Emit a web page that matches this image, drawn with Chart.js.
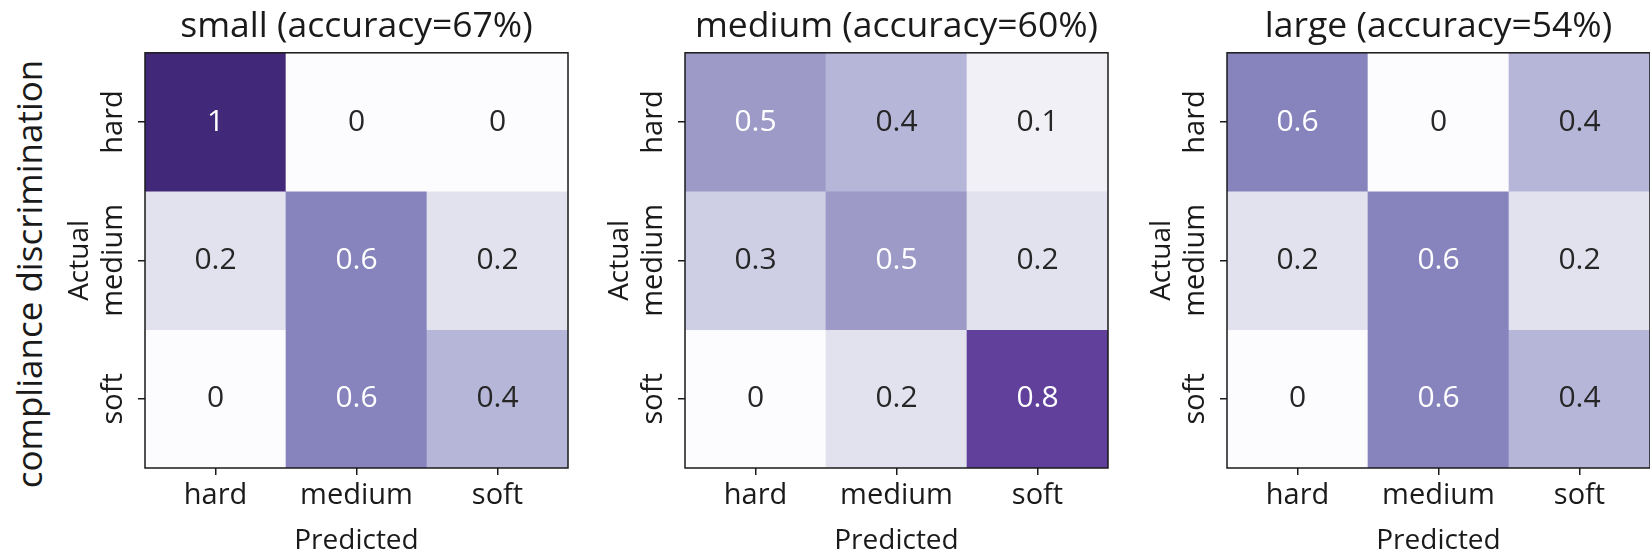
<!DOCTYPE html>
<html>
<head>
<meta charset="utf-8">
<script src="https://cdn.jsdelivr.net/npm/chart.js@4.4.1/dist/chart.umd.min.js"></script>
<style>
  html, body { margin: 0; padding: 0; background: #ffffff; }
  body { width: 1650px; height: 553px; overflow: hidden; position: relative; }
  .panel { position: absolute; top: 0; width: 570px; height: 553px; }
  .panel canvas { display: block; }
  #suplabel {
    position: absolute; left: 29px; top: 274px;
    transform: translate(-50%, -50%) rotate(-90deg);
    font-family: 'Open Sans', sans-serif; font-size: 35px; color: #1a1a1a;
    white-space: nowrap; line-height: 1.2;
  }
</style>
</head>
<body>
<div id="suplabel">compliance discrimination</div>
<div class="panel" style="left:0px"><canvas id="panelSmall" width="570" height="553"></canvas></div>
<div class="panel" style="left:540px"><canvas id="panelMedium" width="570" height="553"></canvas></div>
<div class="panel" style="left:1082px"><canvas id="panelLarge" width="570" height="553"></canvas></div>
<script>
// Class labels (rows = actual, columns = predicted)
const predictedLabels = ['hard', 'medium', 'soft'];
const actualLabels = ['hard', 'medium', 'soft'];

// Panel titles
const panelTitles = ['small (accuracy=67%)', 'medium (accuracy=60%)', 'large (accuracy=54%)'];

// Normalised confusion matrices, one row per actual class
const smallMatrix  = [[1, 0, 0], [0.2, 0.6, 0.2], [0, 0.6, 0.4]];
const mediumMatrix = [[0.5, 0.4, 0.1], [0.3, 0.5, 0.2], [0, 0.2, 0.8]];
const largeMatrix  = [[0.6, 0, 0.4], [0.2, 0.6, 0.2], [0, 0.6, 0.4]];

// Sequential purple colour scale over [0, 1]
const purpleStops = ['#fcfbfd', '#efedf5', '#dadaeb', '#bcbddc', '#9e9ac8', '#807dba', '#6a51a3', '#54278f', '#422878'];

function hexToRgb(h) {
  return [parseInt(h.slice(1, 3), 16), parseInt(h.slice(3, 5), 16), parseInt(h.slice(5, 7), 16)];
}
function purples(v) {
  const t = Math.max(0, Math.min(1, v)) * (purpleStops.length - 1);
  const i = Math.min(Math.floor(t), purpleStops.length - 2);
  const f = t - i;
  const a = hexToRgb(purpleStops[i]), b = hexToRgb(purpleStops[i + 1]);
  const c = a.map((x, k) => Math.round(x + (b[k] - x) * f));
  return `rgb(${c[0]},${c[1]},${c[2]})`;
}

const INK = '#1a1a1a';
const FONT = "'Open Sans', sans-serif";

// Frame around the plotting area
const framePlugin = {
  id: 'frame',
  afterDraw(chart) {
    const { ctx, chartArea: a } = chart;
    ctx.save();
    ctx.strokeStyle = INK;
    ctx.lineWidth = 1.5;
    ctx.strokeRect(a.left, a.top, a.right - a.left, a.bottom - a.top);
    ctx.restore();
  }
};

// Value annotation in the middle of each cell
const cellTextPlugin = {
  id: 'cellText',
  afterDatasetsDraw(chart) {
    const { ctx } = chart;
    ctx.save();
    ctx.font = `30px ${FONT}`;
    ctx.textAlign = 'center';
    ctx.textBaseline = 'middle';
    chart.data.datasets.forEach((ds, di) => {
      const meta = chart.getDatasetMeta(di);
      meta.data.forEach((el, j) => {
        const p = el.getProps(['x', 'y', 'base'], true);
        const v = ds.values[j];
        ctx.fillStyle = v >= 0.5 ? '#ffffff' : '#262626';
        ctx.fillText(String(v), p.x, (p.y + p.base) / 2);
      });
    });
    ctx.restore();
  }
};

function buildPanel(canvasId, title, matrix) {
  const datasets = actualLabels.map((rowLabel, r) => ({
    label: rowLabel,
    data: matrix[r].map(() => [r, r + 1]),
    values: matrix[r],
    backgroundColor: matrix[r].map(purples),
    borderWidth: 0,
    borderSkipped: false,
    barPercentage: 1,
    categoryPercentage: 1
  }));

  return new Chart(document.getElementById(canvasId), {
    type: 'bar',
    data: { labels: predictedLabels, datasets },
    plugins: [cellTextPlugin, framePlugin],
    options: {
      responsive: false,
      animation: false,
      devicePixelRatio: 1,
      layout: { padding: { left: 0, right: 2, top: 0, bottom: 0 } },
      plugins: {
        legend: { display: false },
        tooltip: { enabled: false },
        title: {
          display: true,
          fullSize: false,
          text: title,
          color: INK,
          font: { family: FONT, size: 35.5, weight: 'normal', lineHeight: 1.2 },
          padding: { top: 5.2, bottom: 5 }
        }
      },
      scales: {
        x: {
          type: 'category',
          stacked: true,
          offset: true,
          border: { display: false },
          grid: { offset: false, drawOnChartArea: false, drawTicks: true, tickLength: 7, color: INK, lineWidth: 1.5 },
          ticks: { color: INK, font: { family: FONT, size: 29, lineHeight: 1.2 }, padding: 3, maxRotation: 0, autoSkip: false },
          title: { display: true, text: 'Predicted', color: INK, font: { family: FONT, size: 28, lineHeight: 1.2 }, padding: { top: 0, bottom: -5 } },
          afterFit(scale) { scale.height = 85; }
        },
        y: {
          type: 'linear',
          min: 0,
          max: 3,
          reverse: true,
          border: { display: false },
          grid: { drawOnChartArea: false, drawTicks: true, tickLength: 7, color: INK, lineWidth: 1.5 },
          afterBuildTicks(scale) {
            scale.ticks = actualLabels.map((_, i) => ({ value: i + 0.5 }));
          },
          ticks: {
            color: INK,
            font: { family: FONT, size: 29, lineHeight: 1.2 },
            minRotation: 90,
            maxRotation: 90,
            crossAlign: 'center',
            padding: -32.5,
            autoSkip: false,
            callback: (value, index) => actualLabels[index]
          },
          title: { display: true, text: 'Actual', color: INK, font: { family: FONT, size: 28, lineHeight: 1.2 }, padding: { top: 63.5, bottom: 0 } },
          afterFit(scale) { scale.width = 145; }
        }
      }
    }
  });
}

buildPanel('panelSmall', panelTitles[0], smallMatrix);
buildPanel('panelMedium', panelTitles[1], mediumMatrix);
buildPanel('panelLarge', panelTitles[2], largeMatrix);
</script>
</body>
</html>
